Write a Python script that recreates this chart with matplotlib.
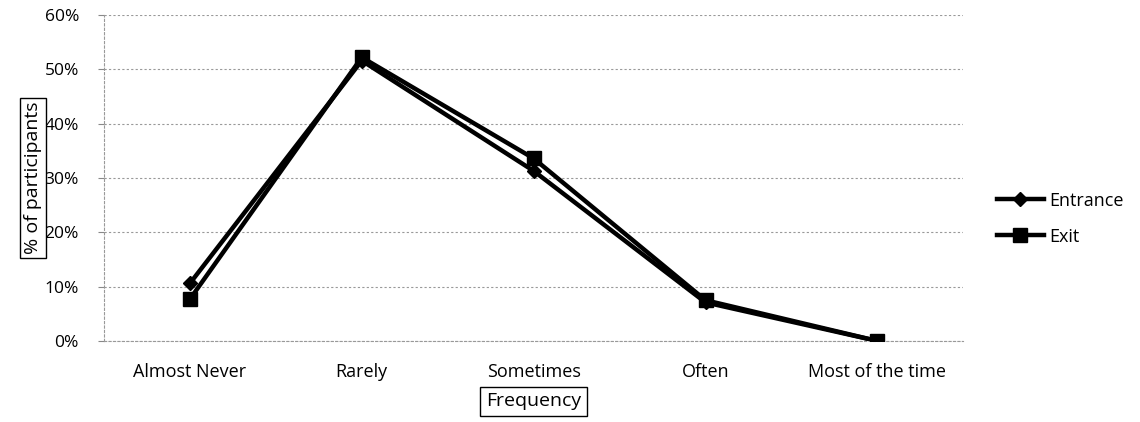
import matplotlib
matplotlib.use('Agg')
import matplotlib.pyplot as plt
from matplotlib.ticker import PercentFormatter

categories = ['Almost Never', 'Rarely', 'Sometimes', 'Often', 'Most of the time']
entrance = [10.6, 51.6, 31.3, 7.1, 0.0]
exit_vals = [7.7, 52.2, 33.6, 7.5, 0.0]
yticks = [0, 10, 20, 30, 40, 50, 60]

plt.rcParams['font.family'] = ['Open Sans', 'DejaVu Sans']

fig = plt.figure(figsize=(11.4, 4.22), dpi=100)
ax = fig.add_axes([0.0912, 0.192, 0.7538, 0.7725])

x = list(range(len(categories)))
ax.plot(x, entrance, color='black', linewidth=3.2, marker='D', markersize=7,
        label='Entrance', zorder=3)
ax.plot(x, exit_vals, color='black', linewidth=3.2, marker='s', markersize=10,
        label='Exit', zorder=4)

ax.set_xlim(-0.5, len(categories) - 0.5)
ax.set_ylim(0, 60)
ax.set_yticks(yticks)
ax.yaxis.set_major_formatter(PercentFormatter(decimals=0))
ax.set_xticks(x)
ax.set_xticklabels(categories, fontsize=13)
ax.tick_params(axis='y', labelsize=12.5, length=4, color='#888888', pad=14)
ax.tick_params(axis='x', length=0, pad=16)

ax.grid(axis='y', color='#999999', linestyle=(0, (2, 2)), linewidth=0.8)
for side in ['top', 'right']:
    ax.spines[side].set_visible(False)
ax.spines['left'].set_linestyle((0, (2, 2)))
ax.spines['left'].set_color('#999999')
ax.spines['bottom'].set_linestyle((0, (2, 2)))
ax.spines['bottom'].set_color('#999999')

ax.set_ylabel('% of participants', fontsize=14, labelpad=2,
              bbox=dict(facecolor='white', edgecolor='black', pad=3, linewidth=1))
ax.set_xlabel('Frequency', fontsize=14, labelpad=8,
              bbox=dict(facecolor='white', edgecolor='black', pad=4, linewidth=1))

ax.legend(loc='center left', bbox_to_anchor=(1.02, 0.375), frameon=False,
          fontsize=13, handlelength=2.6, handletextpad=0.3, labelspacing=1.0)

fig.savefig('out.png', dpi=100)
